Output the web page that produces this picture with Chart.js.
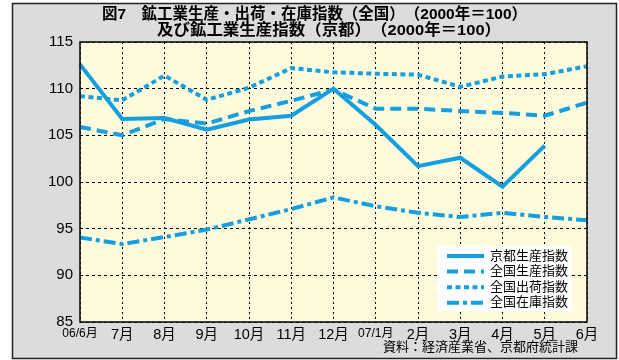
<!DOCTYPE html>
<html>
<head>
<meta charset="utf-8">
<script src="https://cdn.jsdelivr.net/npm/chart.js@4/dist/chart.umd.min.js"></script>
<style>
html,body{margin:0;padding:0;background:#fff;}
canvas{display:block;}
</style>
</head>
<body>
<canvas id="c" width="619" height="360"></canvas>
<script>
const categories = ['06/6月','7月','8月','9月','10月','11月','12月','07/1月','2月','3月','4月','5月','6月'];
const kyotoProduction   = [112.6,106.75,106.85,105.6,106.7,107.1,110.0,106.1,101.7,102.6,99.5,103.9,null];
const nationalProduction= [105.9,105.0,106.75,106.25,107.6,108.7,109.9,107.85,107.85,107.6,107.4,107.1,108.5];
const nationalShipments = [109.2,108.75,111.4,108.8,110.1,112.2,111.75,111.6,111.5,110.2,111.3,111.55,112.4];
const nationalInventory = [94.05,93.35,94.1,94.9,96.0,97.1,98.35,97.4,96.7,96.25,96.7,96.25,95.9];
const seriesLabels = ['京都生産指数','全国生産指数','全国出荷指数','全国在庫指数'];
const yMin = 85, yMax = 115, yStep = 5;
const titleLines = ['図7　鉱工業生産・出荷・在庫指数（全国）　（2000年＝100）','及び鉱工業生産指数（京都）　（2000年＝100）'];
const sourceNote = '資料：経済産業省、京都府統計課';

const FONT = "'Liberation Sans', 'Noto Sans CJK JP', sans-serif";
const LINE = '#139fe0';
const dashes = [[], [11,6], [5,3.5], [12,4,4,4]];
const seriesData = [kyotoProduction, nationalProduction, nationalShipments, nationalInventory];

function fitText(ctx, text, x1, x2, y) {
  const w = ctx.measureText(text).width;
  const target = x2 - x1;
  ctx.save();
  ctx.translate(x1, y);
  ctx.scale(target / w, 1);
  ctx.textAlign = 'left';
  ctx.fillText(text, 0, 0);
  ctx.restore();
}

const framePlugin = {
  id: 'frame',
  beforeDraw(chart) {
    const ctx = chart.ctx, a = chart.chartArea;
    ctx.save();
    ctx.fillStyle = '#ffffff';
    ctx.fillRect(0, 0, chart.width, chart.height);
    ctx.fillStyle = '#dcdcdc';
    ctx.fillRect(12, 3, 605, 356);
    ctx.strokeStyle = '#222';
    ctx.lineWidth = 1.5;
    ctx.strokeRect(12.5, 3.5, 604, 355);
    ctx.fillStyle = '#fefbdc';
    ctx.fillRect(a.left, a.top, a.right - a.left, a.bottom - a.top);
    ctx.restore();
  },
  afterDatasetsDraw(chart) {
    const ctx = chart.ctx, a = chart.chartArea;
    ctx.save();
    ctx.strokeStyle = '#111';
    ctx.lineWidth = 1.6;
    ctx.strokeRect(a.left, a.top, a.right - a.left, a.bottom - a.top);
    ctx.restore();
  },
  afterDraw(chart) {
    const ctx = chart.ctx;
    ctx.save();
    ctx.fillStyle = '#000';
    ctx.textBaseline = 'middle';
    ctx.font = "bold 15.5px " + FONT;
    fitText(ctx, titleLines[0], 102, 527, 15);
    fitText(ctx, titleLines[1], 157, 501, 31);
    ctx.textAlign = 'right';
    ctx.font = "13px " + FONT;
    ctx.fillText(sourceNote, 578, 347);
    // legend
    const lx = 437, ly = 246, lw = 135, lh = 65;
    ctx.fillStyle = '#ffffff';
    ctx.fillRect(lx, ly, lw, lh);
    chart.data.datasets.forEach((ds, i) => {
      const y = 256 + i * 15.6;
      ctx.strokeStyle = ds.borderColor;
      ctx.lineWidth = 4;
      ctx.setLineDash(ds.borderDash || []);
      ctx.beginPath();
      ctx.moveTo(447, y);
      ctx.lineTo(484, y);
      ctx.stroke();
      ctx.setLineDash([]);
      ctx.fillStyle = '#000';
      ctx.textAlign = 'left';
      ctx.font = "13px " + FONT;
      ctx.fillText(ds.label, 490, y);
    });
    ctx.restore();
  }
};

new Chart(document.getElementById('c'), {
  type: 'line',
  data: {
    labels: categories,
    datasets: seriesData.map((d, i) => ({
      label: seriesLabels[i],
      data: d,
      borderColor: LINE,
      backgroundColor: LINE,
      borderWidth: 4,
      borderDash: dashes[i],
      borderCapStyle: 'butt',
      borderJoinStyle: 'miter',
      pointRadius: 0,
      tension: 0,
      spanGaps: false,
      fill: false
    }))
  },
  options: {
    responsive: false,
    animation: false,
    devicePixelRatio: 1,
    layout: { padding: { left: 0, right: 32, top: 42, bottom: 0 } },
    plugins: { legend: { display: false }, tooltip: { enabled: false }, title: { display: false } },
    scales: {
      x: {
        type: 'category',
        offset: false,
        grid: { display: true, color: '#000', lineWidth: 1, drawTicks: false },
        border: { display: false, dash: [2, 3] },
        ticks: {
          padding: 4,
          color: '#000',
          maxRotation: 0,
          autoSkip: false,
          font: (ctx) => {
            const lbl = categories[ctx.index] || '';
            return { family: FONT, size: lbl.indexOf('/') >= 0 ? 12 : 14.5 };
          }
        },
        afterFit: (s) => { s.height = 38; }
      },
      y: {
        min: yMin, max: yMax,
        grid: { display: true, color: '#000', lineWidth: 1, drawTicks: false },
        border: { display: false, dash: [3, 3] },
        ticks: { stepSize: yStep, padding: 7, color: '#000', font: { family: FONT, size: 15 } },
        afterFit: (s) => { s.width = 80; }
      }
    }
  },
  plugins: [framePlugin]
});
</script>
</body>
</html>
